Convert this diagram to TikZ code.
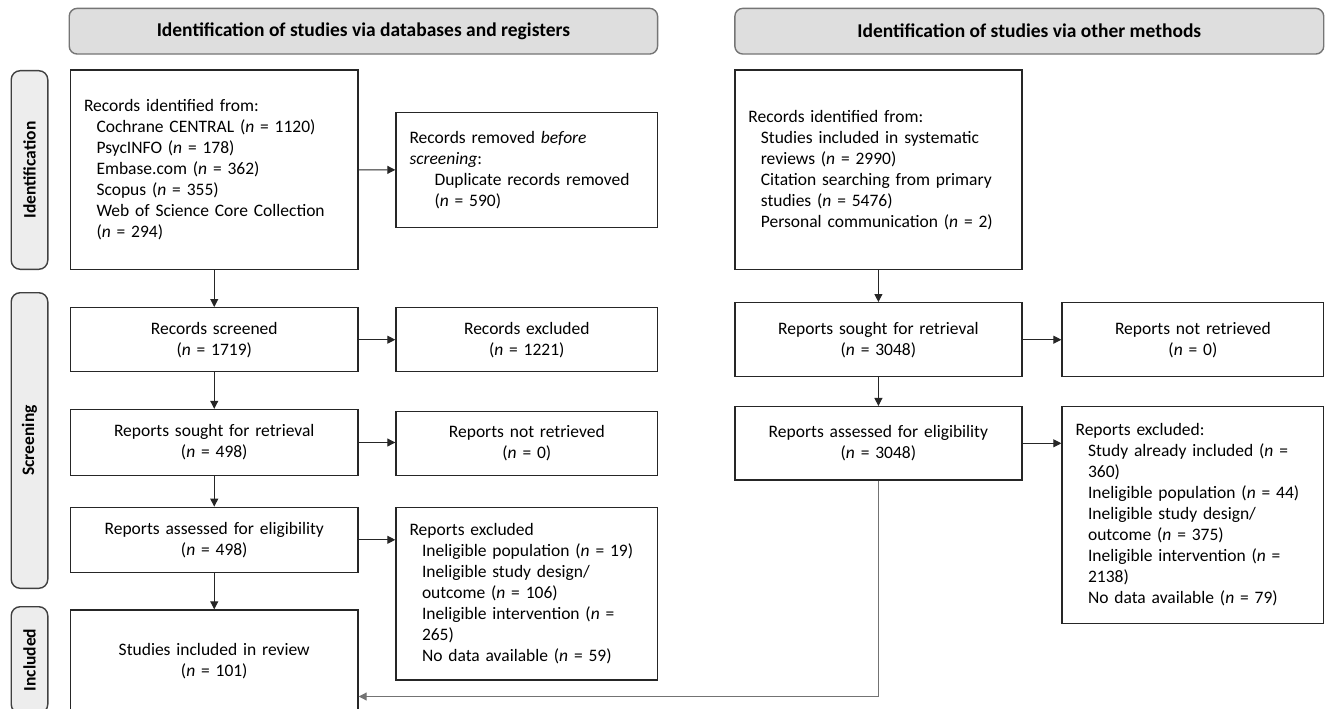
\documentclass[tikz,border=0pt]{standalone}
\usepackage{fontspec}
\setmainfont{Carlito}
\usetikzlibrary{arrows.meta}
\definecolor{headfill}{HTML}{DEDEDE}
\definecolor{sidefill}{HTML}{EDEDED}
\definecolor{headline}{HTML}{757575}
\newcommand{\ind}{\hspace*{12.5pt}}
\newcommand{\nn}{\textit{n}}

\begin{document}
\begin{tikzpicture}[x=1pt, y=-1pt, >={Triangle[length=8pt,width=8pt]},
  every node/.style={font=\fontsize{17.5}{21}\selectfont},
  box/.style={draw=black!85, line width=1.4pt, inner xsep=13.5pt, inner ysep=0pt, align=left},
  cbox/.style={box, align=center},
  head/.style={draw=headline, fill=headfill, line width=1.4pt, rounded corners=8pt,
    inner sep=0pt, minimum height=45.7pt, font=\fontsize{19.5}{23}\selectfont\bfseries},
  side/.style={head, draw=black!75, fill=sidefill, rotate=90, rounded corners=9pt,
    minimum height=36.6pt, font=\fontsize{17.5}{21}\selectfont\bfseries},
  link/.style={->, line width=1pt, draw=black!85}]
  \useasboundingbox (0,0) rectangle (1325,709);
  \clip (0,0) rectangle (1325,709);

  % Headers
  \node[head, minimum width=588.4pt] (hdb) at (363.4,31.2) {Identification of studies via databases and registers};
  \node[head, minimum width=588.9pt] (hot) at (1029.3,31.2) {Identification of studies via other methods};

  % Side labels
  \node[side, minimum width=198.6pt] (sid) at (29.5,170) {Identification};
  \node[side, minimum width=295.6pt] (ssc) at (29.5,440.5) {Screening};
  \node[side, minimum width=106.6pt] (sin) at (29.5,660) {Included};

  % Databases and registers
  \node[box, text width=260.5pt, minimum height=199.3pt] (rid) at (214.25,169.7)
    {Records identified from:\\
     \ind Cochrane CENTRAL (\nn{} = 1120)\\
     \ind PsycINFO (\nn{} = 178)\\
     \ind Embase.com (\nn{} = 362)\\
     \ind Scopus (\nn{} = 355)\\
     \ind Web of Science Core Collection\\
     \ind (\nn{} = 294)};
  \node[box, text width=234.6pt, minimum height=115.4pt] (rrm) at (526.8,170)
    {Records removed \textit{before}\\
     \textit{screening}:\\
     \hspace*{25pt}Duplicate records removed\\
     \hspace*{25pt}(\nn{} = 590)};
  \node[cbox, text width=260.5pt, minimum height=64pt] (rsc) at (214.25,339.7)
    {Records screened\\(\nn{} = 1719)};
  \node[cbox, text width=234.6pt, minimum height=64pt] (rex) at (526.8,339.7)
    {Records excluded\\(\nn{} = 1221)};
  \node[cbox, text width=260.5pt, minimum height=66pt] (rsr) at (214.25,442.5)
    {Reports sought for retrieval\\(\nn{} = 498)};
  \node[cbox, text width=234.6pt, minimum height=64pt] (rnr) at (526.8,443.3)
    {Reports not retrieved\\(\nn{} = 0)};
  \node[cbox, text width=260.5pt, minimum height=65pt] (rae) at (214.25,539.8)
    {Reports assessed for eligibility\\(\nn{} = 498)};
  \node[box, text width=234.6pt, minimum height=172.7pt] (rxl) at (526.8,593.7)
    {Reports excluded\\
     \ind Ineligible population (\nn{} = 19)\\
     \ind Ineligible study design/\\
     \ind outcome (\nn{} = 106)\\
     \ind Ineligible intervention (\nn{} =\\
     \ind 265)\\
     \ind No data available (\nn{} = 59)};
  \node[cbox, text width=260.5pt, minimum height=102pt] (sir) at (214.25,661)
    {Studies included in review\\(\nn{} = 101)};

  % Other methods
  \node[box, text width=260.1pt, minimum height=199.3pt] (oid) at (878.4,169.7)
    {Records identified from:\\
     \ind Studies included in systematic\\
     \ind reviews (\nn{} = 2990)\\
     \ind Citation searching from primary\\
     \ind studies (\nn{} = 5476)\\
     \ind Personal communication (\nn{} = 2)};
  \node[cbox, text width=260.1pt, minimum height=74pt] (osr) at (878.4,339.7)
    {Reports sought for retrieval\\(\nn{} = 3048)};
  \node[cbox, text width=234.7pt, minimum height=74pt] (onr) at (1192.9,339.7)
    {Reports not retrieved\\(\nn{} = 0)};
  \node[cbox, text width=260.1pt, minimum height=73.3pt] (oae) at (878.4,443.3)
    {Reports assessed for eligibility\\(\nn{} = 3048)};
  \node[box, text width=234.7pt, minimum height=216.7pt] (oxl) at (1192.9,515)
    {Reports excluded:\\
     \ind Study already included (\nn{} =\\
     \ind 360)\\
     \ind Ineligible population (\nn{} = 44)\\
     \ind Ineligible study design/\\
     \ind outcome (\nn{} = 375)\\
     \ind Ineligible intervention (\nn{} =\\
     \ind 2138)\\
     \ind No data available (\nn{} = 79)};
  \coordinate (turn) at (878.4,696.5);

  % Arrows
  \draw[link] (rid) -- (rsc);
  \draw[link] (rsc) -- (rsr);
  \draw[link] (rsr) -- (rae);
  \draw[link] (rae) -- (sir);
  \draw[link] (rid) -- (rrm);
  \draw[link] (rsc) -- (rex);
  \draw[link] (rsr.east) -- (rsr.east -| rnr.west);
  \draw[link] (rae.east) -- (rae.east -| rxl.west);
  \draw[link] (oid) -- (osr);
  \draw[link] (osr) -- (oae);
  \draw[link] (osr) -- (onr);
  \draw[link] (oae.east) -- (oae.east -| oxl.west);
  \draw[link, draw=black!55] (oae) -- (turn) -- (turn -| sir.east);
\end{tikzpicture}
\end{document}
